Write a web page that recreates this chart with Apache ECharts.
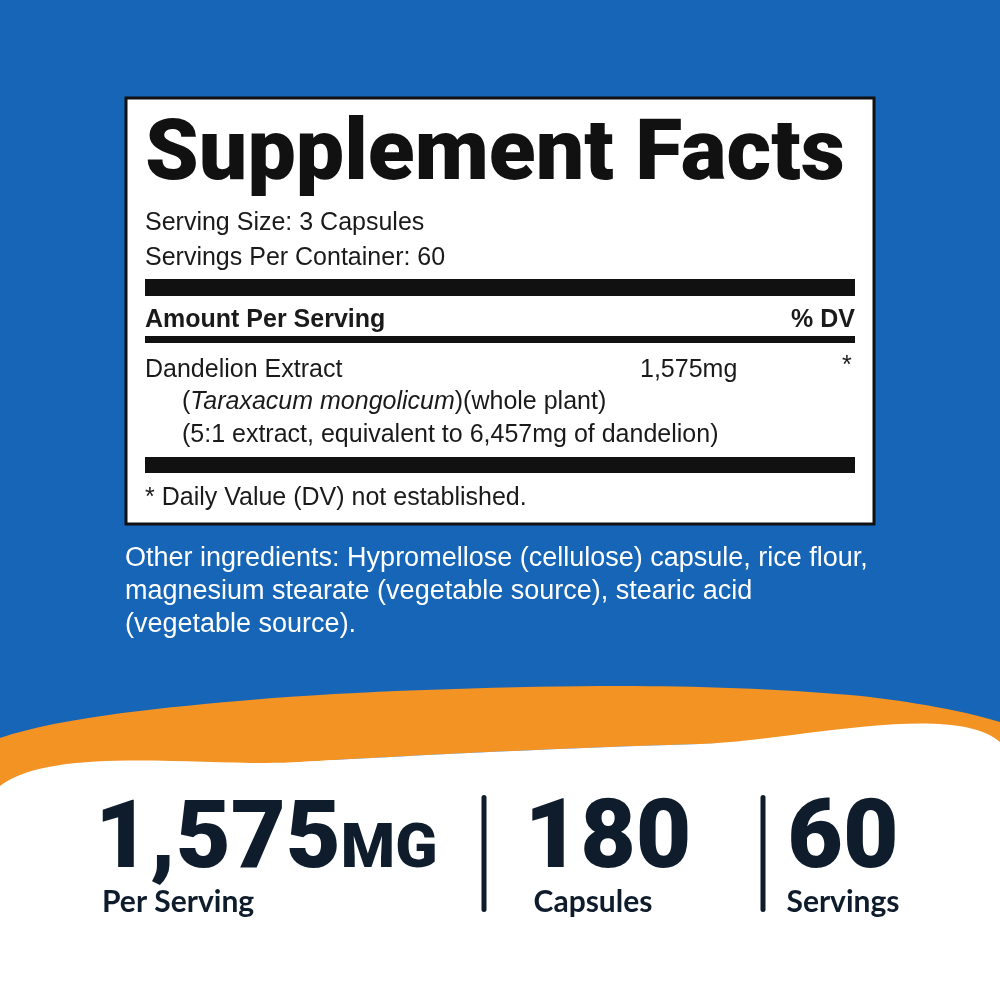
<!DOCTYPE html>
<html><head><meta charset="utf-8">
<script src="https://cdn.jsdelivr.net/npm/echarts@6/dist/echarts.min.js"></script>
<style>html,body{margin:0;padding:0}#c{width:1000px;height:1000px}</style>
</head><body><div id="c"></div>
<script>
const title = "Supplement Facts";
const servingLines = ["Serving Size: 3 Capsules", "Servings Per Container: 60"];
const headerLeft = "Amount Per Serving", headerRight = "% DV";
const ingredientName = "Dandelion Extract", ingredientAmount = "1,575mg", ingredientDV = "*";
const ingredientSub = ["(5:1 extract, equivalent to 6,457mg of dandelion)"];
const footnote = "* Daily Value (DV) not established.";
const otherLines = ["Other ingredients: Hypromellose (cellulose) capsule, rice flour,",
  "magnesium stearate (vegetable source), stearic acid", "(vegetable source)."];
const stats = [["1,575", "MG", "Per Serving"], ["180", "", "Capsules"], ["60", "", "Servings"]];

const body = '"Liberation Sans", Arial, sans-serif';
const heavy = 'Roboto, "DejaVu Sans", sans-serif';
const navy = '#0f1c2c';
function T(x, y, text, size, opt) {
  opt = opt || {};
  return {type: 'text', x: x, y: y, style: Object.assign({text: text, fill: opt.fill || '#1a1a1a',
    font: (opt.italic ? 'italic ' : '') + (opt.weight || 'normal') + ' ' + size + 'px ' + (opt.family || body),
    textAlign: opt.align || 'left', textVerticalAlign: 'middle', verticalAlign: 'middle'}, opt.rich ? {rich: opt.rich} : {})};
}
const els = [];
els.push({type: 'rect', shape: {x: 0, y: 0, width: 1000, height: 1000}, style: {fill: '#ffffff'}});
els.push({type: 'rect', shape: {x: 0, y: 0, width: 1000, height: 760}, style: {fill: '#1765b6'}});
els.push({type: 'polygon', shape: {smooth: 0.3, points: [[0,738],[250,700],[600,686],[850,695],[1000,722],[1000,742],[700,744],[300,762],[0,786]]}, style: {fill: '#f39324'}});
els.push({type: 'polygon', shape: {smooth: 0.3, points: [[0,786],[300,762],[700,744],[1000,742],[1000,1000],[0,1000]]}, style: {fill: '#ffffff'}});
els.push({type: 'rect', shape: {x: 126, y: 98, width: 748, height: 426}, style: {fill: '#fff', stroke: '#111', lineWidth: 3}});
els.push(T(145, 157, title, 86, {family: heavy, weight: 900, fill: '#111'}));
servingLines.forEach((s, i) => els.push(T(145, 223 + i * 35, s, 25)));
els.push({type: 'rect', shape: {x: 145, y: 279, width: 710, height: 17}, style: {fill: '#111'}});
els.push(T(145, 320, headerLeft, 25, {weight: 'bold'}));
els.push(T(855, 320, headerRight, 25, {weight: 'bold', align: 'right'}));
els.push({type: 'rect', shape: {x: 145, y: 336, width: 710, height: 7}, style: {fill: '#111'}});
els.push(T(145, 370, ingredientName, 25));
els.push(T(640, 370, ingredientAmount, 25));
els.push(T(842, 366, ingredientDV, 25));
els.push(T(182, 402, '({i|Taraxacum mongolicum})(whole plant)', 25, {rich: {i: {font: 'italic 25px ' + body, fill: '#1a1a1a'}}}));
ingredientSub.forEach((s, i) => els.push(T(182, 435 + i * 33, s, 25)));
els.push({type: 'rect', shape: {x: 145, y: 457, width: 710, height: 16}, style: {fill: '#111'}});
els.push(T(145, 498, footnote, 25));
otherLines.forEach((s, i) => els.push(T(125, 559 + i * 33, s, 27, {fill: '#ffffff'})));
els.push(T(95, 843, stats[0][0] + '{s|' + stats[0][1] + '}', 95, {family: heavy, weight: 900, fill: navy, rich: {s: {font: '900 62px ' + heavy, fill: navy, verticalAlign: 'bottom', padding: [0,0,8,0]}}}));
els.push(T(102, 902, stats[0][2], 30, {family: 'Lato, sans-serif', weight: 'bold', fill: navy}));
els.push(T(608, 843, stats[1][0], 96, {family: heavy, weight: 900, fill: navy, align: 'center'}));
els.push(T(593, 902, stats[1][2], 30, {family: 'Lato, sans-serif', weight: 'bold', fill: navy, align: 'center'}));
els.push(T(843, 843, stats[2][0], 96, {family: heavy, weight: 900, fill: navy, align: 'center'}));
els.push(T(843, 902, stats[2][2], 30, {family: 'Lato, sans-serif', weight: 'bold', fill: navy, align: 'center'}));
[484, 763].forEach(x => els.push({type: 'rect', shape: {x: x - 2.5, y: 795, width: 5, height: 117, r: 2.5}, style: {fill: navy}}));
const chart = echarts.init(document.getElementById('c'));
chart.setOption({animation: false, graphic: {elements: els}});
</script></body></html>
